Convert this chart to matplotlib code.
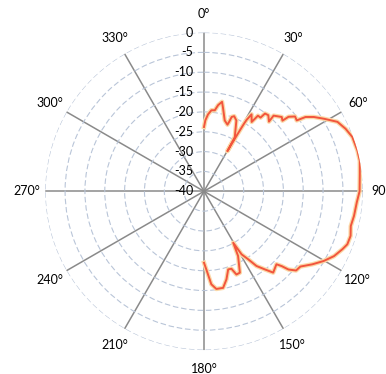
import numpy as np
import matplotlib.pyplot as plt
from matplotlib.transforms import offset_copy

angle_deg = [0, 1.1, 3, 5.2, 7.6, 9.3, 11.4, 13, 16.3, 19.4, 19.9, 20.4, 21.9, 24.6,
             29.6, 30.0, 30.2, 30.3, 30.4, 30.5, 30.6, 30.8, 31.2, 31.7, 34.5, 35.5,
             37.5, 38.1, 40.2, 43.0, 42.6, 46.3, 48.0, 48.6, 50.6, 52.6, 53.8, 55.9,
             58.8, 62.5, 66.2, 69.9, 75.1, 78.9, 83.6, 90, 94.1, 99.3, 103.3, 106.9,
             110.3, 112.7, 116.5, 120.2, 124, 128, 130.7, 132.8, 133.9, 135.2, 139.6,
             142, 144.9, 147, 149.2, 150.4, 152.2, 156.2, 158.7, 160.5, 162.8, 165.7,
             168.8, 172.8, 175.5, 178.3, 180]
level_db = [-23.8, -22.1, -20.6, -19.5, -19.4, -18.0, -17.0, -18.6, -21.4, -22.2, -21.4,
            -20.0, -19.6, -20.4, -24.3, -27.1, -28.3, -26.2, -23.7, -21.8, -20.3, -19.0,
            -18.3, -17.2, -18.8, -16.6, -16.6, -15.1, -14.9, -16.0, -14.1, -12.9, -13.4,
            -11.6, -10.3, -10.6, -8.3, -6.6, -4.7, -2.1, -1.0, -0.2, 0.0, 0.0, -0.5,
            -0.8, -1.4, -1.7, -2.0, -1.4, -1.5, -2.2, -3.4, -5.1, -7.1, -9.2, -9.4,
            -11.0, -12.8, -14.1, -13.1, -15.0, -17.0, -19.6, -21.5, -25.1, -21.6,
            -17.6, -17.5, -19.3, -19.4, -17.1, -15.2, -15.2, -16.5, -20.3, -22.0]

r_ticks = [-40, -35, -30, -25, -20, -15, -10, -5, 0]
theta_ticks = list(range(0, 360, 30))

plt.rcParams['font.family'] = ['Lato', 'DejaVu Sans']

fig = plt.figure(figsize=(3.86, 3.74), dpi=100)
ax = fig.add_axes([0.117, 0.064, 0.823, 0.849], projection='polar')
ax.set_theta_zero_location('N')
ax.set_theta_direction(-1)
ax.set_ylim(-40, 0)

ax.set_rticks(r_ticks)
ax.set_yticklabels([])
ax.yaxis.grid(True, color='#b9c5d8', linestyle=(0, (5, 2.5)), linewidth=0.8)
ax.xaxis.grid(True, color='#8a8a8a', linewidth=1.1, linestyle='-')
ax.spines['polar'].set_visible(False)

ax.set_xticks(np.deg2rad(theta_ticks))
ax.set_xticklabels([f'{a}°' for a in theta_ticks], fontsize=9)
ax.tick_params(axis='x', pad=3)

# radial labels sit just left of the 0° spoke
trans = offset_copy(ax.transData, fig=fig, x=-11, y=0, units='dots')
for r in r_ticks:
    ax.text(0, r, str(r), transform=trans, ha='right', va='center', fontsize=9)

th = np.deg2rad(angle_deg)
ax.plot(th, level_db, color='#fbd9a8', linewidth=3.2, solid_joinstyle='round')
ax.plot(th, level_db, color='#f2553d', linewidth=1.4, solid_joinstyle='round')

fig.savefig('out.png', dpi=100)
